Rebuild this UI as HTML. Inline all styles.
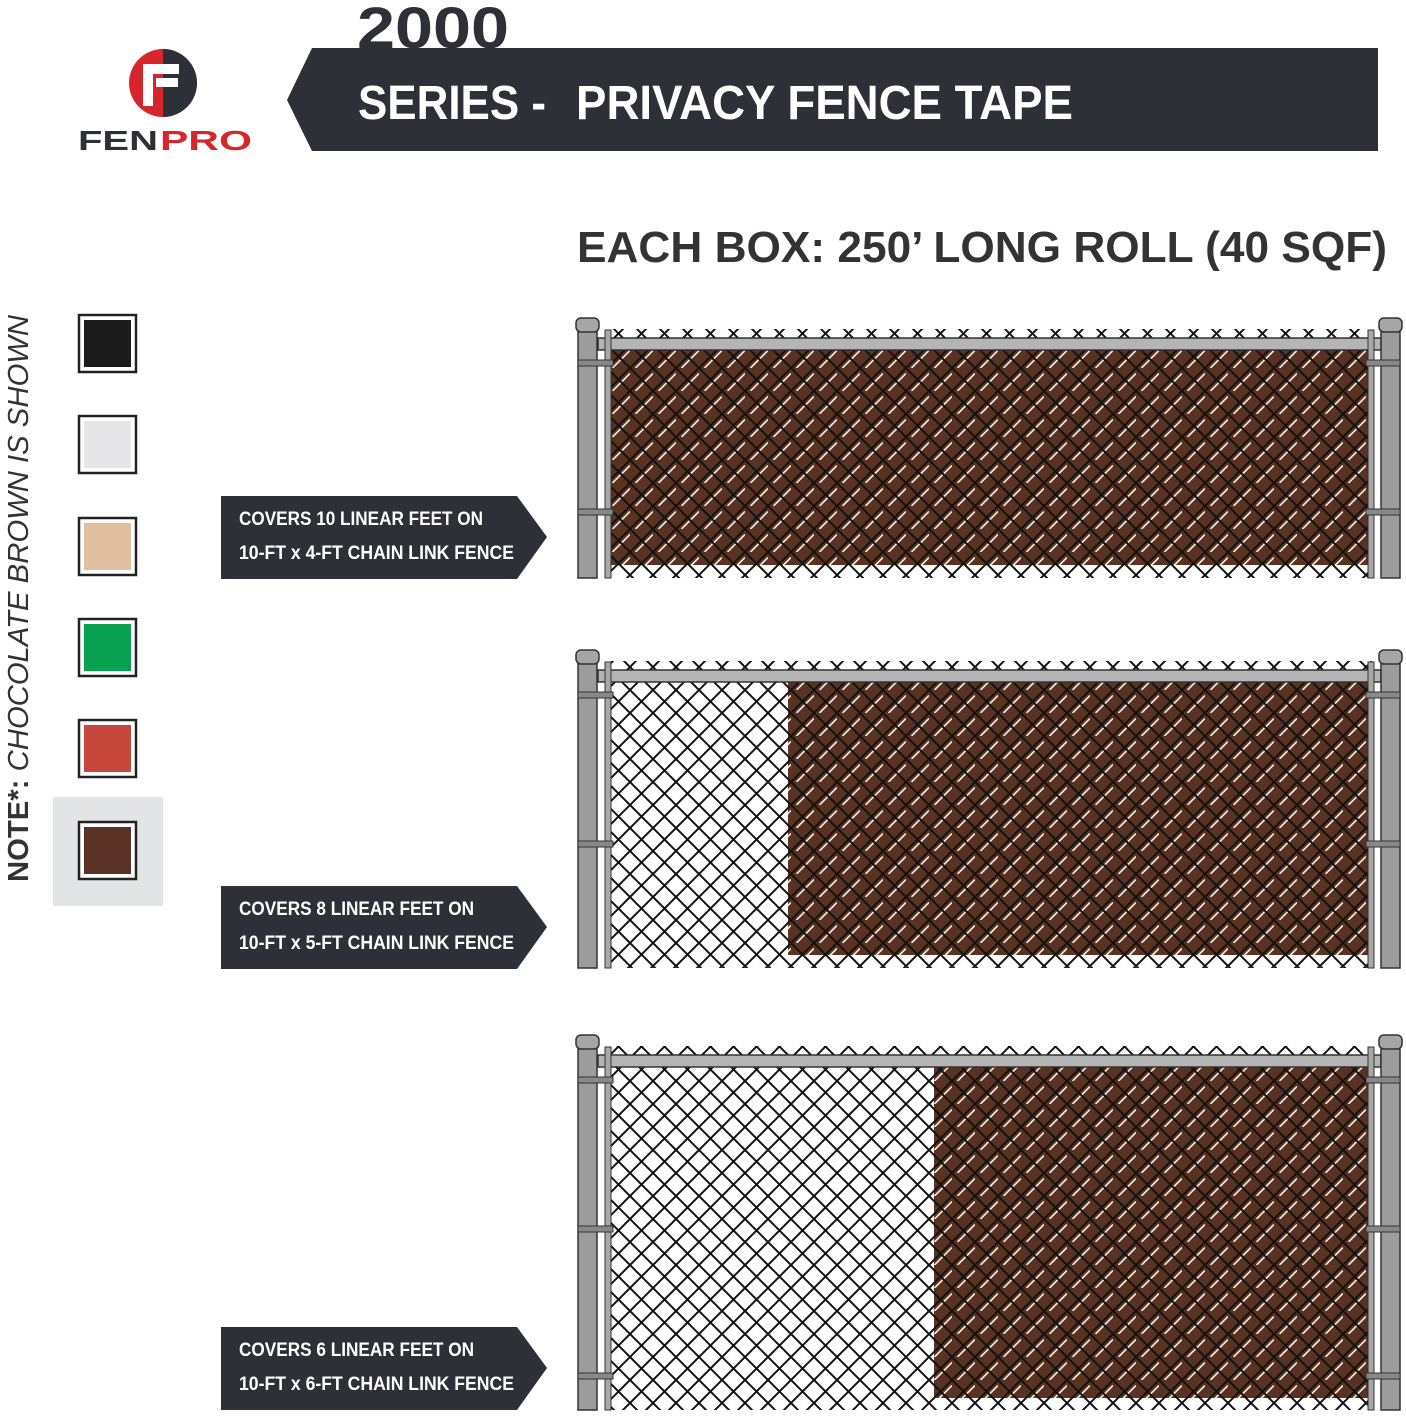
<!DOCTYPE html>
<html><head><meta charset="utf-8"><style>
html,body{margin:0;padding:0;background:#fff;}
svg{display:block;}
text{font-family:"Liberation Sans",sans-serif;font-weight:bold;}
</style></head><body>
<svg width="1406" height="1417" viewBox="0 0 1406 1417" xmlns="http://www.w3.org/2000/svg">
<defs>
<pattern id="mesh" x="607" y="0" width="23" height="23" patternUnits="userSpaceOnUse">
<path d="M0,0 L23,23 M23,0 L0,23 M-1,22 L1,24 M22,-1 L24,1" stroke="#111" stroke-width="2" fill="none"/>
</pattern>
<pattern id="tape" x="607" y="0" width="23" height="23" patternUnits="userSpaceOnUse">
<rect width="23" height="23" fill="#5a3222"/>
<path d="M-6,6 L6,-6 M5.5,23 L23,5.5 M17,29 L29,17" stroke="#f2ece6" stroke-width="1.6" fill="none"/>
</pattern>
</defs>

<!-- Header -->
<polygon points="312,48 1378,48 1378,151 312,151 287,100" fill="#2e3037"/>
<text x="357" y="48" font-size="58" fill="#2e3037" textLength="152" lengthAdjust="spacingAndGlyphs">2000</text>
<text x="358" y="119" font-size="48" fill="#fff" textLength="188" lengthAdjust="spacingAndGlyphs">SERIES -</text>
<text x="576" y="119" font-size="48" fill="#fff" textLength="497" lengthAdjust="spacingAndGlyphs">PRIVACY FENCE TAPE</text>

<!-- Logo -->
<circle cx="163" cy="83" r="34" fill="#d6262c"/>
<path d="M163,49 A34,34 0 0 1 163,117 Z" fill="#2e3037"/>
<rect x="143" y="64" width="36" height="10" fill="#fff"/>
<rect x="143" y="64" width="10" height="42" fill="#fff"/>
<rect x="156" y="78" width="22" height="9" fill="#fff"/>
<text x="78" y="150" font-size="28" fill="#2e3037" textLength="80" lengthAdjust="spacingAndGlyphs">FEN</text>
<text x="160" y="150" font-size="28" fill="#d6262c" textLength="92" lengthAdjust="spacingAndGlyphs">PRO</text>

<text x="577" y="262" font-size="44" fill="#333" textLength="810" lengthAdjust="spacingAndGlyphs">EACH BOX: 250’ LONG ROLL (40 SQF)</text>

<!-- Note -->
<text transform="translate(28,882) rotate(-90)" font-size="29" fill="#333" textLength="567" lengthAdjust="spacingAndGlyphs">NOTE*: <tspan font-style="italic" font-weight="normal">CHOCOLATE BROWN IS SHOWN</tspan></text>

<!-- swatches -->
<rect x="53" y="797" width="110" height="109" fill="#e3e4e5"/>
<g stroke="#222" stroke-width="2.5">
<rect x="79" y="315" width="57" height="57" fill="#fff"/><rect x="84" y="320" width="47" height="47" fill="#1b1b1b" stroke="none"/>
<rect x="79" y="416" width="57" height="57" fill="#fff"/><rect x="84" y="421" width="47" height="47" fill="#e6e6e9" stroke="none"/>
<rect x="79" y="518" width="57" height="57" fill="#fff"/><rect x="84" y="523" width="47" height="47" fill="#e2bfa0" stroke="none"/>
<rect x="79" y="619" width="57" height="57" fill="#fff"/><rect x="84" y="624" width="47" height="47" fill="#08a152" stroke="none"/>
<rect x="79" y="720" width="57" height="57" fill="#fff"/><rect x="84" y="725" width="47" height="47" fill="#c8473d" stroke="none"/>
<rect x="79" y="822" width="57" height="57" fill="#fff"/><rect x="84" y="827" width="47" height="47" fill="#5a3226" stroke="none"/>
</g>

<!-- labels -->
<g fill="#2e3037">
<polygon points="221,496 517,496 547,537 517,579 221,579"/>
<polygon points="221,886 517,886 547,927 517,969 221,969"/>
<polygon points="221,1327 517,1327 547,1368 517,1410 221,1410"/>
</g>
<g fill="#fff" font-size="19">
<text x="239" y="525" textLength="244" lengthAdjust="spacingAndGlyphs">COVERS 10 LINEAR FEET ON</text>
<text x="239" y="559" textLength="275" lengthAdjust="spacingAndGlyphs">10-FT x 4-FT CHAIN LINK FENCE</text>
<text x="239" y="915" textLength="235" lengthAdjust="spacingAndGlyphs">COVERS 8 LINEAR FEET ON</text>
<text x="239" y="949" textLength="275" lengthAdjust="spacingAndGlyphs">10-FT x 5-FT CHAIN LINK FENCE</text>
<text x="239" y="1356" textLength="235" lengthAdjust="spacingAndGlyphs">COVERS 6 LINEAR FEET ON</text>
<text x="239" y="1390" textLength="275" lengthAdjust="spacingAndGlyphs">10-FT x 6-FT CHAIN LINK FENCE</text>
</g>

<!-- Fence 1 -->
<g>
<rect x="607" y="329" width="765" height="249" fill="url(#mesh)"/>
<rect x="611" y="345" width="757" height="220" fill="url(#tape)"/>
<rect x="611" y="345" width="757" height="220" fill="url(#mesh)"/>
<rect x="598" y="338" width="783" height="12" fill="#b5b5b5" stroke="#333" stroke-width="1.5"/>
<rect x="605" y="330" width="6" height="248" fill="#a8a8a8" stroke="#333"/>
<rect x="1368" y="330" width="6" height="248" fill="#a8a8a8" stroke="#333"/>
<rect x="578" y="328" width="19" height="250" fill="#9c9c9c" stroke="#333" stroke-width="1.5"/>
<rect x="576" y="318" width="23" height="14" rx="5" fill="#a5a5a5" stroke="#333" stroke-width="1.5"/>
<rect x="1381" y="328" width="19" height="250" fill="#9c9c9c" stroke="#333" stroke-width="1.5"/>
<rect x="1379" y="318" width="23" height="14" rx="5" fill="#a5a5a5" stroke="#333" stroke-width="1.5"/>
<g fill="#888" stroke="#333"><rect x="578" y="360" width="35" height="6"/><rect x="578" y="509" width="35" height="6"/><rect x="1366" y="360" width="34" height="6"/><rect x="1366" y="509" width="34" height="6"/></g>
</g>

<!-- Fence 2 -->
<g>
<rect x="607" y="661" width="765" height="307" fill="url(#mesh)"/>
<rect x="788" y="677" width="580" height="278" fill="url(#tape)"/>
<rect x="788" y="677" width="580" height="278" fill="url(#mesh)"/>
<rect x="598" y="670" width="783" height="12" fill="#b5b5b5" stroke="#333" stroke-width="1.5"/>
<rect x="605" y="662" width="6" height="306" fill="#a8a8a8" stroke="#333"/>
<rect x="1368" y="662" width="6" height="306" fill="#a8a8a8" stroke="#333"/>
<rect x="578" y="660" width="19" height="308" fill="#9c9c9c" stroke="#333" stroke-width="1.5"/>
<rect x="576" y="650" width="23" height="14" rx="5" fill="#a5a5a5" stroke="#333" stroke-width="1.5"/>
<rect x="1381" y="660" width="19" height="308" fill="#9c9c9c" stroke="#333" stroke-width="1.5"/>
<rect x="1379" y="650" width="23" height="14" rx="5" fill="#a5a5a5" stroke="#333" stroke-width="1.5"/>
<g fill="#888" stroke="#333"><rect x="578" y="692" width="35" height="6"/><rect x="578" y="841" width="35" height="6"/><rect x="1366" y="692" width="34" height="6"/><rect x="1366" y="841" width="34" height="6"/></g>
</g>

<!-- Fence 3 -->
<g>
<rect x="607" y="1046" width="765" height="364" fill="url(#mesh)"/>
<rect x="934" y="1062" width="434" height="336" fill="url(#tape)"/>
<rect x="934" y="1062" width="434" height="336" fill="url(#mesh)"/>
<rect x="598" y="1055" width="783" height="12" fill="#b5b5b5" stroke="#333" stroke-width="1.5"/>
<rect x="605" y="1047" width="6" height="363" fill="#a8a8a8" stroke="#333"/>
<rect x="1368" y="1047" width="6" height="363" fill="#a8a8a8" stroke="#333"/>
<rect x="578" y="1045" width="19" height="365" fill="#9c9c9c" stroke="#333" stroke-width="1.5"/>
<rect x="576" y="1035" width="23" height="14" rx="5" fill="#a5a5a5" stroke="#333" stroke-width="1.5"/>
<rect x="1381" y="1045" width="19" height="365" fill="#9c9c9c" stroke="#333" stroke-width="1.5"/>
<rect x="1379" y="1035" width="23" height="14" rx="5" fill="#a5a5a5" stroke="#333" stroke-width="1.5"/>
<g fill="#888" stroke="#333"><rect x="578" y="1077" width="35" height="6"/><rect x="578" y="1226" width="35" height="6"/><rect x="578" y="1373" width="35" height="6"/><rect x="1366" y="1077" width="34" height="6"/><rect x="1366" y="1226" width="34" height="6"/><rect x="1366" y="1373" width="34" height="6"/></g>
</g>
</svg>
</body></html>
